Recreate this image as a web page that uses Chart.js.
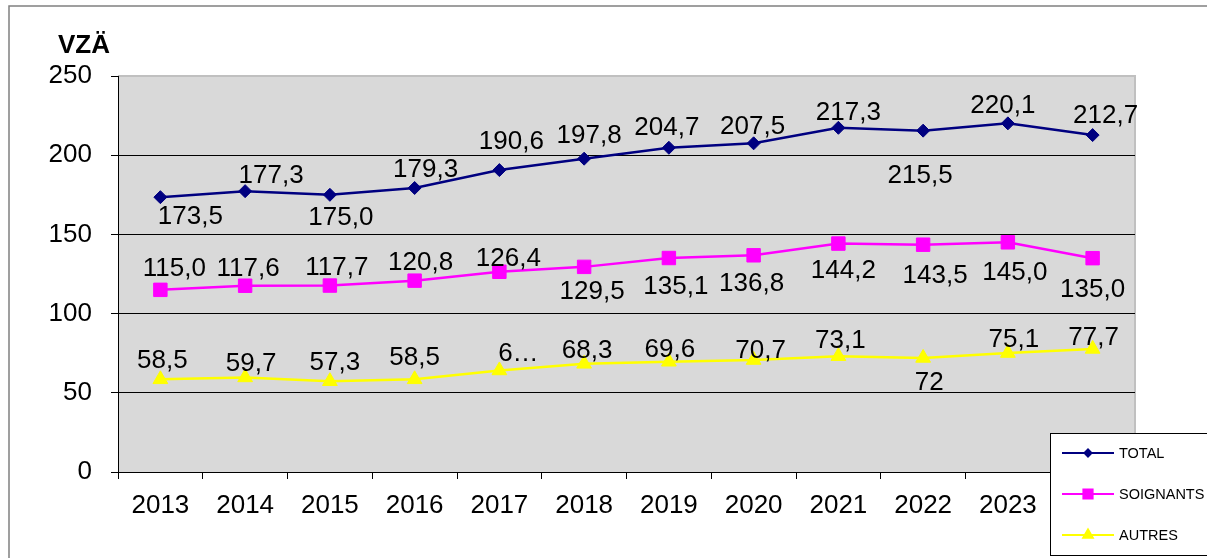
<!DOCTYPE html>
<html>
<head>
<meta charset="utf-8">
<script src="https://cdn.jsdelivr.net/npm/chart.js@4.4.0/dist/chart.umd.min.js"></script>
<style>
  body { margin: 0; background: #fff; }
  canvas { display: block; }
</style>
</head>
<body>
<canvas id="myChart" width="1207" height="558"></canvas>
<script>
// years (x axis)
const years = ["2013", "2014", "2015", "2016", "2017", "2018", "2019", "2020", "2021", "2022", "2023", "2024"];

// series values, VZÄ
const total = [173.5, 177.3, 175.0, 179.3, 190.6, 197.8, 204.7, 207.5, 217.3, 215.5, 220.1, 212.7];
const soignants = [115.0, 117.6, 117.7, 120.8, 126.4, 129.5, 135.1, 136.8, 144.2, 143.5, 145.0, 135.0];
const autres = [58.5, 59.7, 57.3, 58.5, 64.1, 68.3, 69.6, 70.7, 73.1, 72, 75.1, 77.7];

// y axis ticks
const yTicks = [0, 50, 100, 150, 200, 250];

// labels that excel printed differently (cut off / no decimal)
const autresText = { 4: "6…", 9: "72" };

// where each value label sits, relative to its point (px)
const totalDx = [30, 26, 11, 11, 12, 5, -2, -1, 10, -3, -5, 13];
const totalDy = [18, -17, 21, -20, -30, -25, -22, -18, -17, 43, -19, -21];
const soigDx = [14, 3, 7, 6, 9, 8, 7, -2, 5, 12, 7, 0];
const soigDy = [-23, -19, -20, -20, -15, 23, 27, 27, 25, 29, 29, 30];
const autDx = [2, 6, 5, 0, 19, 3, 1, 7, 2, 6, 6, 1];
const autDy = [-20, -15, -20, -23, -18, -15, -14, -11, -17, 23, -15, -13];

const FONT = '"Liberation Sans", Arial, sans-serif';

function fmt(v) {
  return v.toFixed(1).replace(".", ",");
}

// setup block
const data = {
  labels: years,
  datasets: [
    {
      label: "TOTAL",
      data: total,
      borderColor: "#000080",
      backgroundColor: "#000080",
      borderWidth: 2.5,
      pointStyle: "rectRot",
      pointRadius: 6.5,
      pointBorderWidth: 1,
      shift: [totalDx, totalDy],
    },
    {
      label: "SOIGNANTS",
      data: soignants,
      borderColor: "#ff00ff",
      backgroundColor: "#ff00ff",
      borderWidth: 2.5,
      pointStyle: "rect",
      pointRadius: 9.5,
      pointBorderWidth: 1,
      shift: [soigDx, soigDy],
    },
    {
      label: "AUTRES",
      data: autres,
      borderColor: "#ffff00",
      backgroundColor: "#ffff00",
      borderWidth: 2.5,
      pointStyle: "triangle",
      pointRadius: 8.5,
      pointBorderWidth: 1,
      shift: [autDx, autDy],
      texts: autresText,
    },
  ],
};

// grey plot area, outer frame and the "VZÄ" title
const plotFrame = {
  id: "plotFrame",
  beforeDraw(chart) {
    const { ctx, chartArea: a } = chart;
    ctx.save();
    ctx.strokeStyle = "#808080";
    ctx.lineWidth = 1.5;
    ctx.strokeRect(9, 6, 1400, 800);
    ctx.fillStyle = "#d9d9d9";
    ctx.fillRect(a.left, a.top, a.right - a.left, a.bottom - a.top);
    ctx.strokeStyle = "#c0c0c0";
    ctx.lineWidth = 2;
    ctx.beginPath();
    ctx.moveTo(a.left, a.top);
    ctx.lineTo(a.right, a.top);
    ctx.lineTo(a.right, a.bottom);
    ctx.stroke();
    ctx.fillStyle = "#000";
    ctx.font = "bold 26px " + FONT;
    ctx.textAlign = "left";
    ctx.textBaseline = "alphabetic";
    ctx.fillText("VZÄ", 58, 53);
    ctx.restore();
  },
};

// value labels next to every point
const valueLabels = {
  id: "valueLabels",
  afterDatasetsDraw(chart) {
    const ctx = chart.ctx;
    ctx.save();
    ctx.fillStyle = "#000";
    ctx.font = "26px " + FONT;
    ctx.textAlign = "center";
    ctx.textBaseline = "alphabetic";
    chart.data.datasets.forEach((ds, i) => {
      const meta = chart.getDatasetMeta(i);
      meta.data.forEach((pt, j) => {
        const txt = ds.texts && ds.texts[j] ? ds.texts[j] : fmt(ds.data[j]);
        ctx.fillText(txt, pt.x + ds.shift[0][j], pt.y + ds.shift[1][j] + 9);
      });
    });
    ctx.restore();
  },
};

// excel style legend box, sits over the corner of the chart
const cornerLegend = {
  id: "cornerLegend",
  afterDraw(chart) {
    const ctx = chart.ctx;
    ctx.save();
    ctx.fillStyle = "#fff";
    ctx.fillRect(1050, 433, 200, 122);
    ctx.strokeStyle = "#000";
    ctx.lineWidth = 1;
    ctx.strokeRect(1050.5, 433.5, 200, 122);
    const rows = [453, 494, 535];
    const sizes = [3.5, 6.5, 5.5];
    chart.data.datasets.forEach((ds, i) => {
      const y = rows[i];
      ctx.strokeStyle = ds.borderColor;
      ctx.lineWidth = 2;
      ctx.beginPath();
      ctx.moveTo(1062, y);
      ctx.lineTo(1114, y);
      ctx.stroke();
      ctx.fillStyle = ds.backgroundColor;
      Chart.helpers.drawPoint(ctx, { pointStyle: ds.pointStyle, radius: sizes[i], rotation: 0, borderWidth: 1 }, 1088, y);
      ctx.fillStyle = "#000";
      ctx.font = "14.5px " + FONT;
      ctx.textAlign = "left";
      ctx.textBaseline = "middle";
      ctx.fillText(ds.label, 1119, y + 1);
    });
    ctx.restore();
  },
};

// config block
const config = {
  type: "line",
  data: data,
  options: {
    responsive: false,
    animation: false,
    layout: { padding: { top: 76, right: 72, bottom: 0, left: 0 } },
    plugins: {
      legend: { display: false },
      tooltip: { enabled: false },
    },
    scales: {
      x: {
        offset: true,
        afterFit(scale) {
          scale.height = 86;
        },
        grid: {
          offset: true,
          drawOnChartArea: false,
          tickLength: 7,
          color: "#000",
        },
        border: { color: "#000", width: 1 },
        ticks: {
          color: "#000",
          font: { family: FONT, size: 26 },
          padding: 11,
          maxRotation: 0,
          autoSkip: false,
        },
      },
      y: {
        min: 0,
        max: 250,
        afterFit(scale) {
          scale.width = 118;
        },
        afterBuildTicks(scale) {
          scale.ticks = yTicks.map((v) => ({ value: v }));
        },
        grid: {
          tickLength: 7,
          color: (c) => (c.tick && c.tick.value === 250 ? "#c0c0c0" : "#000"),
          tickColor: "#000",
        },
        border: { color: "#000", width: 1 },
        ticks: {
          color: "#000",
          font: { family: FONT, size: 26 },
          padding: 19,
        },
      },
    },
  },
  plugins: [plotFrame, valueLabels, cornerLegend],
};

// render init block
const myChart = new Chart(document.getElementById("myChart"), config);
</script>
</body>
</html>
